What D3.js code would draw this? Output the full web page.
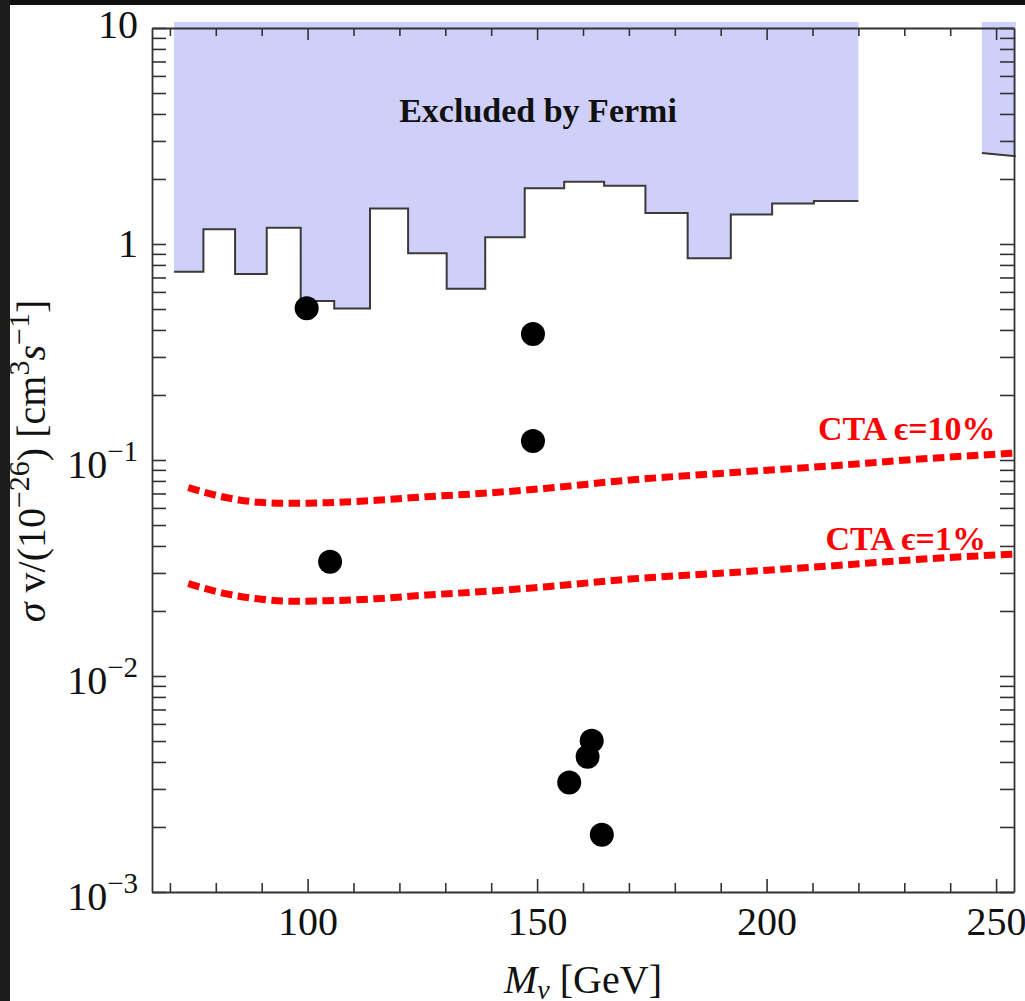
<!DOCTYPE html>
<html>
<head>
<meta charset="utf-8">
<script src="https://cdn.jsdelivr.net/npm/d3@7"></script>
<style>
  html, body { margin: 0; padding: 0; background: #ffffff; }
  svg { display: block; }
  text { font-family: "Liberation Serif", "Times New Roman", "DejaVu Serif", serif; }
</style>
</head>
<body>
<div id="root"></div>
<script>
// Fermi step limit (bin edges in GeV, limit per bin)
const fermiEdges = [70.9, 77.3, 84.2, 91.1, 98.5, 105.8, 113.6, 121.9, 130.3, 138.7, 147.3, 155.9, 164.6, 173.6, 182.8, 192.2, 201.2, 210.3, 220];
const fermiLimit = [0.744, 1.17, 0.726, 1.19, 0.545, 0.503, 1.46, 0.906, 0.621, 1.074, 1.81, 1.94, 1.86, 1.39, 0.859, 1.37, 1.54, 1.58];
// second excluded piece at high mass
const fermiHighMass = [246.9, 254.3];
const fermiHighLimit = [2.64, 2.55];

// CTA sensitivity curves
const ctaMass = [74, 82.4, 89.6, 96.9, 104.1, 115, 125.9, 138.3, 152.1, 170.2, 192, 213.8, 233.4, 254.1];
const cta10 = [0.0745, 0.0669, 0.0637, 0.0630, 0.0634, 0.0651, 0.0676, 0.0701, 0.0740, 0.0808, 0.0873, 0.0938, 0.101, 0.1077];
const cta1 = [0.0268, 0.0240, 0.0227, 0.0222, 0.0223, 0.0228, 0.0237, 0.0246, 0.0259, 0.0281, 0.0301, 0.0323, 0.0347, 0.0367];

// benchmark points
const pointMass = [99.8, 104.9, 149.1, 149.1, 161.9, 161.0, 157.0, 164.1];
const pointSigma = [0.504, 0.0338, 0.383, 0.1225, 0.00502, 0.00423, 0.00321, 0.00184];

// ticks
const xMajor = [100, 150, 200, 250];
const xMinor = [70, 80, 90, 110, 120, 130, 140, 160, 170, 180, 190, 210, 220, 230, 240];
const yDecades = [10, 1, 0.1, 0.01, 0.001];
const yDecadeLabels = [["10", ""], ["1", ""], ["10", "\u22121"], ["10", "\u22122"], ["10", "\u22123"]];

// plot frame (pixels)
let margin = { top: 28, right: 11, bottom: 109, left: 152 },
  W = 1025, H = 1001,
  width = W - margin.left - margin.right,
  height = H - margin.top - margin.bottom;

let x = d3.scaleLinear().domain([66.1, 253.9]).range([margin.left, margin.left + width]);
let y = d3.scaleLog().domain([0.001, 10]).range([margin.top + height, margin.top]);

let svg = d3.select("#root").append("svg").attr("width", W).attr("height", H);

// dark screenshot frame at top and left
svg.append("rect").attr("x", 0).attr("y", 0).attr("width", W).attr("height", 5).attr("fill", "#101010");
svg.append("rect").attr("x", 0).attr("y", 0).attr("width", 10).attr("height", H).attr("fill", "#1c1c1c");

svg.append("clipPath").attr("id", "plotclip")
  .append("rect").attr("x", margin.left).attr("y", margin.top).attr("width", width).attr("height", height);

// excluded region
const fermiTop = 10.66;
let steps = fermiLimit.map((v, i) => ({ m: fermiEdges[i], v: v }));
steps.push({ m: fermiEdges[fermiEdges.length - 1], v: fermiLimit[fermiLimit.length - 1] });

let stepArea = d3.area().curve(d3.curveStepAfter)
  .x((d) => x(d.m)).y0(y(fermiTop)).y1((d) => y(d.v));
let stepLine = d3.line().curve(d3.curveStepAfter)
  .x((d) => x(d.m)).y((d) => y(d.v));

svg.append("path").datum(steps).attr("d", stepArea).attr("fill", "#cfd0fa");
svg.append("path").datum(steps).attr("d", stepLine)
  .attr("fill", "none").attr("stroke", "#3a3a3a").attr("stroke-width", 2);

let high = fermiHighMass.map((m, i) => ({ m: m, v: fermiHighLimit[i] }));
svg.append("path").datum(high)
  .attr("d", d3.area().x((d) => x(d.m)).y0(y(fermiTop)).y1((d) => y(d.v)))
  .attr("fill", "#cfd0fa");
svg.append("path").datum(high)
  .attr("d", d3.line().x((d) => x(d.m)).y((d) => y(d.v)))
  .attr("fill", "none").attr("stroke", "#3a3a3a").attr("stroke-width", 2);

// CTA dashed curves
let ctaLine = d3.line().curve(d3.curveMonotoneX).x((d) => x(d.m)).y((d) => y(d.v));
[cta10, cta1].forEach((series) => {
  svg.append("path")
    .datum(ctaMass.map((m, i) => ({ m: m, v: series[i] })))
    .attr("clip-path", "url(#plotclip)")
    .attr("d", ctaLine)
    .attr("fill", "none")
    .attr("stroke", "#ff0000")
    .attr("stroke-width", 7)
    .attr("stroke-dasharray", "11.5 5.5");
});

// points
svg.append("g").selectAll("circle")
  .data(pointMass.map((m, i) => ({ m: m, v: pointSigma[i] })))
  .join("circle")
  .attr("cx", (d) => x(d.m))
  .attr("cy", (d) => y(d.v))
  .attr("r", 12)
  .attr("fill", "#000");

// axes
const axisColor = "#333";
let yTicks = [];
[0.001, 0.01, 0.1, 1].forEach((k) => {
  for (let i = 1; i <= 9; i++) yTicks.push(i * k);
});
yTicks.push(10);

function styleAxis(g, keepDomain) {
  g.selectAll("line").attr("stroke", axisColor).attr("stroke-width", 1.6);
  if (keepDomain) g.select(".domain").attr("stroke", axisColor).attr("stroke-width", 1.8);
  else g.select(".domain").remove();
}

// bottom
let bottomMinor = svg.append("g").attr("transform", "translate(0," + (margin.top + height) + ")")
  .call(d3.axisBottom(x).tickValues(xMinor).tickSize(-9).tickSizeOuter(0).tickFormat(""));
styleAxis(bottomMinor, false);
let bottomMajor = svg.append("g").attr("transform", "translate(0," + (margin.top + height) + ")")
  .call(d3.axisBottom(x).tickValues(xMajor).tickSize(-13).tickSizeOuter(0).tickPadding(15).tickFormat(d3.format("d")));
styleAxis(bottomMajor, true);
bottomMajor.selectAll("text")
  .attr("font-size", 40).attr("fill", "#111")
  .attr("font-family", "'Liberation Serif', 'Times New Roman', serif");

// top
let topMinor = svg.append("g").attr("transform", "translate(0," + margin.top + ")")
  .call(d3.axisTop(x).tickValues(xMinor).tickSize(-8).tickSizeOuter(0).tickFormat(""));
styleAxis(topMinor, false);
let topMajor = svg.append("g").attr("transform", "translate(0," + margin.top + ")")
  .call(d3.axisTop(x).tickValues(xMajor).tickSize(-12).tickSizeOuter(0).tickFormat(""));
styleAxis(topMajor, true);

// left and right
let leftAxis = svg.append("g").attr("transform", "translate(" + margin.left + ",0)")
  .call(d3.axisLeft(y).tickValues(yTicks).tickSize(-14).tickSizeOuter(0).tickFormat(""));
styleAxis(leftAxis, true);
let rightAxis = svg.append("g").attr("transform", "translate(" + (margin.left + width) + ",0)")
  .call(d3.axisRight(y).tickValues(yTicks).tickSize(-14).tickSizeOuter(0).tickFormat(""));
styleAxis(rightAxis, true);

// y decade labels with superscripts
yDecades.forEach((v, i) => {
  let off = v === 10 ? 10 : v === 1 ? 13 : 18;
  let t = svg.append("text")
    .attr("x", 138)
    .attr("y", y(v) + off)
    .attr("text-anchor", "end")
    .attr("font-size", 40)
    .attr("fill", "#111")
    .text(yDecadeLabels[i][0]);
  if (yDecadeLabels[i][1]) {
    t.append("tspan").attr("font-size", 29).attr("dy", -17).text(yDecadeLabels[i][1]);
  }
});

// axis titles
let xTitle = svg.append("text")
  .attr("x", margin.left + width / 2)
  .attr("y", 993)
  .attr("text-anchor", "middle")
  .attr("font-size", 40)
  .attr("fill", "#111");
xTitle.append("tspan").attr("font-style", "italic").text("M");
xTitle.append("tspan").attr("font-style", "italic").attr("font-size", 28).attr("dy", 6).text("\u03bd");
xTitle.append("tspan").attr("dy", -6).text(" [GeV]");

let yTitle = svg.append("text")
  .attr("transform", "translate(45," + 461 + ") rotate(-90)")
  .attr("text-anchor", "middle")
  .attr("font-size", 40)
  .attr("fill", "#111");
yTitle.append("tspan").attr("font-style", "italic").text("\u03c3");
yTitle.append("tspan").text(" v/(10");
yTitle.append("tspan").attr("font-size", 30).attr("dy", -16).text("\u221226");
yTitle.append("tspan").attr("dy", 16).text(") [cm");
yTitle.append("tspan").attr("font-size", 30).attr("dy", -16).text("3");
yTitle.append("tspan").attr("font-style", "italic").attr("dy", 16).text("s");
yTitle.append("tspan").attr("font-size", 30).attr("dy", -16).text("\u22121");
yTitle.append("tspan").attr("dy", 16).text("]");

// annotations
const notes = [
  { text: "Excluded by Fermi", m: 150.2, v: 3.67, anchor: "middle", color: "#111" },
  { text: "CTA \u03f5=10%", m: 249.9, v: 0.124, anchor: "end", color: "#ff0000" },
  { text: "CTA \u03f5=1%", m: 247.8, v: 0.0383, anchor: "end", color: "#ff0000" }
];
svg.append("g").selectAll("text")
  .data(notes)
  .join("text")
  .attr("x", (d) => x(d.m))
  .attr("y", (d) => y(d.v))
  .attr("text-anchor", (d) => d.anchor)
  .attr("font-size", 34)
  .attr("font-weight", "bold")
  .attr("fill", (d) => d.color)
  .text((d) => d.text);
</script>
</body>
</html>
